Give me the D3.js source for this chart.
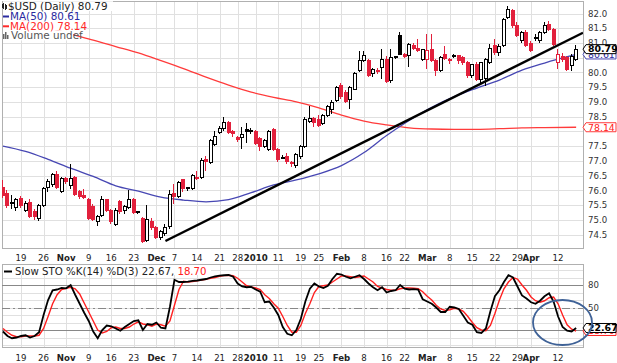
<!DOCTYPE html>
<html>
<head>
<meta charset="utf-8">
<script src="https://cdn.jsdelivr.net/npm/d3@7"></script>
<style>
  body { margin: 0; background: #fff; }
  svg { display: block; font-family: "DejaVu Sans", Verdana, sans-serif; }
</style>
</head>
<body>
<svg id="chart" width="617" height="363"></svg>
<script>
// Trading days shown: weekdays from first to last, market holidays skipped
const firstDay = "2009-10-13";
const lastDay = "2010-04-16";
const holidays = ["2009-11-26", "2009-12-25", "2010-01-01", "2010-01-18", "2010-02-15", "2010-04-02"];

// Daily OHLC for $USD
const opens = [76.10,75.90,75.55,75.40,75.72,75.33,75.60,75.28,75.05,75.50,76.10,76.20,76.55,75.95,76.40,76.15,76.45,75.95,75.82,75.70,
  75.45,74.95,75.15,75.68,75.30,74.85,75.62,75.30,75.40,75.68,75.27,75.05,74.30,74.95,74.75,74.40,74.55,74.78,75.90,75.80,
  76.35,76.10,76.05,76.45,76.45,77.05,76.95,77.55,77.95,78.10,78.30,77.98,77.80,77.78,78.05,78.04,78.01,77.75,77.50,77.40,
  78.05,77.40,77.12,77.15,76.95,76.85,77.15,77.50,78.35,78.45,78.40,78.28,78.55,78.75,79.05,79.57,79.32,79.09,79.43,80.05,
  80.39,80.39,79.95,80.02,80.17,80.45,79.71,80.53,81.25,80.60,80.56,80.92,80.82,80.45,80.45,80.79,80.39,80.05,80.60,80.40,
  80.56,80.56,80.51,80.34,79.88,80.28,79.77,79.80,80.34,80.90,80.66,80.90,81.85,82.10,81.60,81.10,81.35,80.99,81.18,81.10,
  81.36,81.64,81.47,80.34,80.55,80.51,80.22,80.45];
const highs = [76.35,76.00,75.85,75.75,75.80,75.62,75.70,75.35,75.55,76.10,76.40,76.60,76.65,76.45,76.45,76.90,76.50,76.00,76.05,75.75,
  75.55,75.15,75.80,75.72,75.35,75.40,75.68,75.50,76.00,75.75,75.30,75.10,75.50,75.05,74.80,74.65,74.85,76.00,76.20,76.30,
  76.40,76.12,76.55,76.65,77.10,77.16,77.75,78.00,78.18,78.50,78.35,78.05,77.85,78.15,78.30,78.10,78.05,77.80,77.73,78.05,
  78.10,77.45,77.20,77.25,77.00,77.25,77.55,78.50,78.86,78.50,78.55,78.60,78.90,79.05,79.55,79.65,79.40,79.55,80.00,80.73,
  80.73,80.45,80.15,80.15,80.79,80.55,80.79,80.56,81.36,80.65,81.00,81.00,81.13,80.80,81.30,81.30,80.45,80.55,80.90,80.50,
  80.62,80.60,80.55,80.40,80.30,80.35,80.35,80.50,80.95,81.13,80.95,81.85,82.25,82.15,81.70,81.40,81.45,81.05,81.30,81.40,
  81.70,81.75,81.50,80.80,80.65,80.55,80.62,80.92];
const lows = [75.75,75.40,75.35,75.30,75.40,75.25,75.05,74.98,74.95,75.45,75.95,76.10,76.05,75.90,76.20,76.05,75.80,75.70,75.70,74.98,
  74.95,74.80,75.10,75.25,74.85,74.80,75.20,75.20,75.35,75.20,75.20,74.20,74.25,74.65,74.35,74.30,74.45,74.70,75.52,75.75,
  75.95,75.98,76.00,76.35,76.40,76.65,76.90,77.50,77.90,78.00,77.90,77.80,77.65,77.40,77.60,77.90,77.55,77.35,77.45,77.35,
  77.35,76.95,77.05,76.90,76.80,76.75,77.05,77.45,78.30,78.15,78.15,78.20,78.50,78.60,79.00,79.10,78.95,78.75,79.40,80.00,
  80.35,79.85,79.85,79.95,79.77,79.65,79.65,80.45,80.60,80.50,80.17,80.75,80.70,80.40,80.11,80.35,79.88,80.00,80.42,80.30,
  80.50,80.30,80.25,79.80,79.80,79.70,79.65,79.55,80.30,80.60,80.55,80.85,81.80,81.50,81.20,81.00,80.85,80.70,81.05,81.00,
  81.30,81.40,80.90,80.10,80.35,80.05,80.05,80.40];
const closes = [75.82,75.50,75.60,75.68,75.50,75.55,75.12,75.10,75.50,76.05,76.30,76.55,76.10,76.40,76.30,76.40,75.85,75.78,75.76,75.05,
  75.02,75.10,75.70,75.30,74.95,75.30,75.28,75.45,75.68,75.25,75.26,74.25,75.00,74.75,74.40,74.60,74.75,75.85,75.80,76.25,
  76.05,76.08,76.50,76.42,77.00,76.99,77.70,77.84,78.10,78.30,77.95,77.92,77.72,77.90,78.01,78.02,77.60,77.50,77.70,78.00,
  77.40,77.05,77.10,76.99,76.90,77.20,77.50,78.40,78.45,78.30,78.20,78.55,78.85,78.98,79.49,79.20,79.03,79.49,79.98,80.39,
  80.56,79.88,80.10,80.06,80.45,79.70,80.51,80.51,80.62,80.55,80.96,80.80,80.75,80.79,80.73,80.39,80.05,80.51,80.48,80.44,
  80.54,80.42,80.34,79.88,80.28,79.77,80.34,80.45,80.80,80.66,80.88,81.80,82.15,81.60,81.25,81.35,80.90,80.73,81.16,81.36,
  81.59,81.47,80.96,80.62,80.45,80.11,80.55,80.79];

// Moving averages, read every 5th trading day (index into the day list)
const maDayIndex = [0,5,10,15,20,25,30,35,40,45,50,55,60,65,70,75,80,85,90,95,100,105,110,115,120,127];
const ma50 = [77.50,77.32,77.05,76.75,76.47,76.15,75.97,75.77,75.67,75.61,75.68,75.92,76.18,76.35,76.56,76.84,77.28,77.86,78.37,78.82,79.18,79.47,79.74,80.08,80.32,80.61];
const ma200 = [82.00,81.75,81.52,81.30,81.10,80.88,80.66,80.40,80.13,79.84,79.57,79.33,79.15,79.00,78.80,78.55,78.35,78.22,78.12,78.08,78.07,78.07,78.09,78.12,78.13,78.14];

// Hand drawn support line: [day index, price]
const trendStart = [36, 74.28];
const trendEnd = [127, 81.23];

// Slow stochastic, one value per trading day
const stoK = [18,12,9,10,12,13,10,12,17,40,60,73,74,76,75.6,80,67,55,43,32,
  18,9,20,26,25,22,19,24,28,32,33,20,28,27,30,23,22,51,87,84,
  84,84.5,85.5,86,87,88,90,91.5,92.5,93,93.3,91,82,78,77,77.5,74,71,57,58,
  50,40,24,15,13,20,35,58,75,82,78,76,79,88,95,94,91,89,91,93,
  88,82,77,73,77,70,72,73,80,75,74,74.5,74,61,58,55,50,44,44,51,
  50,48,39,30,27,17,16,22,45,65,73,84,93,90,78,66,62,57,55,59,
  65,69,58,38,24,19,18,22.67];
const stoD = [22,17,13,11,11,12,12,12,13,22,38,55,67,74,75.5,77,75,68,56,44,
  32,20,16,18,23,24,22,22,24,28,31,28,27,25,28,27,25,32,53,74,
  85,84,84.5,85.5,86.5,87.5,89,90,91.5,92.5,93,92.5,89,84,79,77.5,76,74,67,62,
  55,49,38,26,17,17,26,42,55,70,78,79,80,84,88,92,92,91,90,91,
  92,88,84,78,76,74,73,73,75,76,76,75.6,75,71,65,60,53,48,46,47,
  49,48,45,38,30,23,20,19,26,42,60,75,84,90,88,80,73,64,59,57,
  59,63,64,55,40,27,21,18.7];

// Axis tick labels: [date, label, bold]
const xTicks = [["2009-10-19","19",0],["2009-10-26","26",0],["2009-11-02","Nov",1],["2009-11-09","9",0],["2009-11-16","16",0],
  ["2009-11-23","23",0],["2009-12-01","Dec",1],["2009-12-07","7",0],["2009-12-14","14",0],["2009-12-21","21",0],["2009-12-28","28",0],
  ["2010-01-04","2010",1],["2010-01-11","11",0],["2010-01-19","19",0],["2010-01-25","25",0],["2010-02-01","Feb",1],["2010-02-08","8",0],
  ["2010-02-16","16",0],["2010-02-22","22",0],["2010-03-01","Mar",1],["2010-03-08","8",0],["2010-03-15","15",0],["2010-03-22","22",0],
  ["2010-03-29","29",0],["2010-04-01","Apr",1],["2010-04-12","12",0]];
// price labels left visible beside the value tags (78.0 and 80.5 sit under tags)
const priceTicks = [74.5,75.0,75.5,76.0,76.5,77.0,77.5,78.5,79.0,79.5,80.0,81.0,81.5,82.0];
const stoLevels = [80, 50, 20];

const svg = d3.select("#chart");
const left = 2, right = 583;
const mainTop = 1, mainBottom = 248;
const stoTop = 264, stoBottom = 347;
const red = "#e2203c";

const parse = d3.utcParse("%Y-%m-%d");
const fmt = d3.utcFormat("%Y-%m-%d");
const days = d3.utcDays(parse(firstDay), d3.utcDay.offset(parse(lastDay), 1))
  .filter(d => d.getUTCDay() > 0 && d.getUTCDay() < 6)
  .map(fmt)
  .filter(d => !holidays.includes(d));

const x = d3.scaleBand().domain(days).range([0.7, 578.4]);
const cx = d => x(d) + x.bandwidth() / 2;
const y = d3.scaleLinear().domain([74.5, 82]).range([234.5, 13.5]);
const ys = d3.scaleLinear().domain([0, 100]).range([345, 270]);

// clip paths for the two panels
const defs = svg.append("defs");
defs.append("clipPath").attr("id", "clipMain").append("rect")
  .attr("x", left).attr("y", mainTop).attr("width", right - left).attr("height", mainBottom - mainTop);
defs.append("clipPath").attr("id", "clipSto").append("rect")
  .attr("x", left).attr("y", stoTop).attr("width", right - left).attr("height", stoBottom - stoTop);

// grid lines
const grid = svg.append("g").attr("stroke", "#e0e0e0").attr("shape-rendering", "crispEdges");
xTicks.forEach(([d]) => {
  const gx = Math.round(cx(d)) + 0.5;
  grid.append("line").attr("x1", gx).attr("x2", gx).attr("y1", mainTop).attr("y2", mainBottom);
  grid.append("line").attr("x1", gx).attr("x2", gx).attr("y1", stoTop).attr("y2", stoBottom);
});
d3.range(74.0, 82.51, 0.5).forEach(p => {
  const gy = Math.round(y(p)) + 0.5;
  if (gy > mainTop && gy < mainBottom)
    grid.append("line").attr("x1", left).attr("x2", right).attr("y1", gy).attr("y2", gy);
});
d3.range(0, 101, 10).forEach(v => {
  const gy = Math.round(ys(v)) + 0.5;
  if (gy > stoTop && gy < stoBottom)
    grid.append("line").attr("x1", left).attr("x2", right).attr("y1", gy).attr("y2", gy);
});

// panel frames
const frame = svg.append("g").attr("fill", "none").attr("stroke", "#b0b0b0").attr("shape-rendering", "crispEdges");
frame.append("rect").attr("x", left + 0.5).attr("y", mainTop + 0.5).attr("width", right - left).attr("height", mainBottom - mainTop);
frame.append("rect").attr("x", left + 0.5).attr("y", stoTop + 0.5).attr("width", right - left).attr("height", stoBottom - stoTop);

// main panel content
const main = svg.append("g").attr("clip-path", "url(#clipMain)");

const maLine = vals => d3.line()
  .x((v, k) => cx(days[maDayIndex[k]]))
  .y(v => y(v))
  .curve(d3.curveMonotoneX)(vals);

main.append("path").attr("d", maLine(ma200)).attr("fill", "none").attr("stroke", "#ff3b3b").attr("stroke-width", 1.3);
main.append("path").attr("d", maLine(ma50)).attr("fill", "none").attr("stroke", "#4747b3").attr("stroke-width", 1.3);

const candles = days.map((date, i) => ({
  date, o: opens[i], h: highs[i], l: lows[i], c: closes[i], prev: i ? closes[i - 1] : opens[i]
}));
const candleG = main.append("g").attr("shape-rendering", "crispEdges");
const cg = candleG.selectAll("g").data(candles).join("g")
  .attr("transform", d => `translate(${Math.round(cx(d.date))},0)`);
const col = d => d.c < d.prev ? red : "#000";
cg.append("line")
  .attr("x1", -0.5).attr("x2", -0.5)
  .attr("y1", d => y(d.h)).attr("y2", d => y(d.l))
  .attr("stroke", col);
cg.append("rect")
  .attr("x", -1.5).attr("width", 3)
  .attr("y", d => y(Math.max(d.o, d.c)))
  .attr("height", d => Math.max(1, Math.abs(y(d.o) - y(d.c))))
  .attr("fill", d => d.c < d.o ? col(d) : "#fff")
  .attr("stroke", col);

// support line, extended to the panel edge
const tx1 = cx(days[trendStart[0]]), ty1 = y(trendStart[1]);
const tx2 = cx(days[trendEnd[0]]), ty2 = y(trendEnd[1]);
const slope = (ty2 - ty1) / (tx2 - tx1);
main.append("line")
  .attr("x1", tx1).attr("y1", ty1)
  .attr("x2", right).attr("y2", ty1 + slope * (right - tx1))
  .attr("stroke", "#000").attr("stroke-width", 2.4);

// legend, on white boxes
const legend = svg.append("g").attr("font-size", 10.4);
const legendRows = [
  { text: "$USD (Daily) 80.79", color: "#222", y: 10, w: 110 },
  { text: "MA(50) 80.61", color: "#2a2aa0", y: 19.8, w: 70 },
  { text: "MA(200) 78.14", color: "#ff2a2a", y: 29.6, w: 71 },
  { text: "Volume undef", color: "#555", y: 39.4, w: 70 }
];
legendRows.forEach(r => {
  legend.append("rect").attr("x", left + 1).attr("y", r.y - 8.8).attr("width", r.w).attr("height", 9.8).attr("fill", "#fff");
});
legendRows.forEach((r, k) => {
  legend.append("text").attr("x", k === 0 ? 8 : (k === 3 ? 11 : 10)).attr("y", r.y).attr("fill", r.color).text(r.text);
});
// candlestick glyph
const icon = legend.append("g").attr("stroke", "#222").attr("shape-rendering", "crispEdges");
[[3.5, 3, 9], [5.5, 4, 10]].forEach(([ix, a, b]) => {
  icon.append("line").attr("x1", ix).attr("x2", ix).attr("y1", a).attr("y2", b);
});
icon.append("rect").attr("x", 2).attr("y", 4).attr("width", 1.5).attr("height", 4).attr("fill", "#222").attr("stroke", "none");
icon.append("rect").attr("x", 5.5).attr("y", 5).attr("width", 1.5).attr("height", 4).attr("fill", "#222").attr("stroke", "none");
legend.append("line").attr("x1", 3).attr("x2", 9).attr("y1", 16.5).attr("y2", 16.5).attr("stroke", "#2a2aa0").attr("stroke-width", 2);
legend.append("line").attr("x1", 3).attr("x2", 9).attr("y1", 26.3).attr("y2", 26.3).attr("stroke", "#ff2a2a").attr("stroke-width", 2);
[[3, 34, 39], [5, 32, 39], [7, 35, 39]].forEach(([bx, a, b]) => {
  legend.append("rect").attr("x", bx).attr("y", a).attr("width", 1.5).attr("height", b - a).attr("fill", "#666");
});

// right price axis
const axisG = svg.append("g").attr("font-size", 8.6).attr("fill", "#333");
priceTicks.forEach(p => {
  axisG.append("text").attr("x", 588).attr("y", y(p) + 3.2).text(p.toFixed(1));
});

// value tags on the right edge
function tag(g, yy, label, stroke, textColor, bold) {
  const w = 30, h = 9;
  const pts = [[right, yy], [right + 3, yy - h / 2], [right + 3 + w, yy - h / 2], [right + 3 + w, yy + h / 2], [right + 3, yy + h / 2]];
  g.append("polygon").attr("points", pts.map(p => p.join(",")).join(" "))
    .attr("fill", "#fff").attr("stroke", stroke).attr("stroke-width", 1);
  g.append("text").attr("x", right + 5).attr("y", yy + 3.3).attr("font-size", 9.4)
    .attr("font-weight", bold ? "bold" : "normal").attr("fill", textColor).text(label);
}
const tags = svg.append("g");
tag(tags, y(78.14), "78.14", "#ff3b3b", "#ff2020", false);
tag(tags, y(80.61), "80.61", "#4747b3", "#2a2aa0", false);
tag(tags, y(80.79), "80.79", "#000", "#000", true);

// date axis labels (between panels and at the bottom)
const dateG = svg.append("g").attr("font-size", 8.6).attr("fill", "#222").attr("text-anchor", "middle");
[257.5, 357.5].forEach(ly => {
  xTicks.forEach(([d, lab, b]) => {
    dateG.append("text").attr("x", cx(d)).attr("y", ly + 3)
      .attr("font-weight", b ? "bold" : "normal").text(lab);
  });
});

// stochastic panel
const sto = svg.append("g").attr("clip-path", "url(#clipSto)");
stoLevels.forEach(v => {
  sto.append("line").attr("x1", left).attr("x2", right)
    .attr("y1", Math.round(ys(v)) + 0.5).attr("y2", Math.round(ys(v)) + 0.5)
    .attr("stroke", "#888").attr("stroke-width", 1)
    .attr("stroke-dasharray", v === 50 ? "8,3,2,3" : null)
    .attr("shape-rendering", "crispEdges");
});
const stoLine = d3.line().x((v, i) => cx(days[i])).y(v => ys(v));
sto.append("path").attr("d", stoLine(stoD)).attr("fill", "none").attr("stroke", "#ff2020").attr("stroke-width", 1.4);
sto.append("path").attr("d", stoLine(stoK)).attr("fill", "none").attr("stroke", "#000").attr("stroke-width", 1.8);

const stoAxis = svg.append("g").attr("font-size", 8.6).attr("fill", "#333");
[80, 50].forEach(v => stoAxis.append("text").attr("x", 588).attr("y", ys(v) + 3.2).text(v));
tag(stoAxis, ys(18.7), "18.70", "#ff2020", "#ff2020", false);
tag(stoAxis, ys(22.67), "22.67", "#000", "#000", true);

// stochastic legend
const sl = svg.append("g").attr("font-size", 10.2);
sl.append("rect").attr("x", left + 1).attr("y", stoTop + 1).attr("width", 208).attr("height", 10).attr("fill", "#fff");
sl.append("line").attr("x1", 4).attr("x2", 12).attr("y1", 271.5).attr("y2", 271.5).attr("stroke", "#000").attr("stroke-width", 2);
const st = sl.append("text").attr("x", 15).attr("y", 275).attr("fill", "#222");
st.append("tspan").text("Slow STO %K(14) %D(3) 22.67, ");
st.append("tspan").attr("fill", "#ff2020").text("18.70");

// highlight ellipse around the latest turn
svg.append("ellipse").attr("cx", 562.5).attr("cy", 322.5).attr("rx", 29.5).attr("ry", 22.5)
  .attr("fill", "none").attr("stroke", "#3f6297").attr("stroke-width", 1.8);
</script>
</body>
</html>
